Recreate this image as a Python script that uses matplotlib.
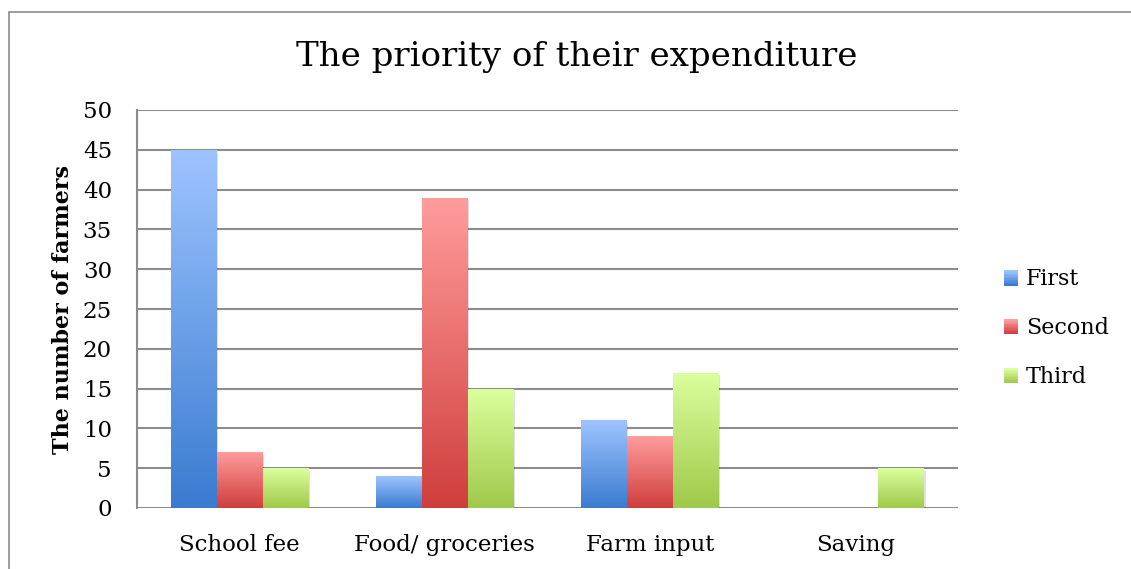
import numpy as np
import matplotlib.pyplot as plt
from matplotlib.patches import Rectangle
from matplotlib.legend_handler import HandlerBase
from matplotlib.colors import LinearSegmentedColormap

categories = ['School fee', 'Food/ groceries', 'Farm input', 'Saving']
series = ['First', 'Second', 'Third']
first = [45, 4, 11, 0]
second = [7, 39, 9, 0]
third = [5, 15, 17, 5]
yticks = [0, 5, 10, 15, 20, 25, 30, 35, 40, 45, 50]

# light (top) -> dark (bottom) for each series
shades = {
    'First': ('#9ec4ff', '#3a7bd0'),
    'Second': ('#ff9c9c', '#cf3e3c'),
    'Third': ('#dcff9e', '#9fc94a'),
}

plt.rcParams['font.family'] = ['DejaVu Serif']

fig = plt.figure(figsize=(11.31, 5.69), dpi=100)
fig.patches.append(Rectangle((9 / 1131, -0.1), 1.2, 1.1 - 12 / 569,
                             transform=fig.transFigure, fill=False,
                             edgecolor='#8c8c8c', lw=1.2))

ax = fig.add_axes([137 / 1131, 1 - 508 / 569, 821 / 1131, 398 / 569])
x = np.arange(len(categories))
w = 0.224
grad = np.linspace(0, 1, 256).reshape(-1, 1)

for i, (name, vals) in enumerate(zip(series, [first, second, third])):
    cmap = LinearSegmentedColormap.from_list(name, [shades[name][1], shades[name][0]])
    bars = ax.bar(x + (i - 1) * w, vals, w, color=shades[name][0], lw=0, zorder=3)
    for b in bars:
        h = b.get_height()
        if h <= 0:
            continue
        x0 = b.get_x()
        # soft shadow under each bar
        ax.add_patch(Rectangle((x0 + 0.006, -0.35), w, h, color='#000000',
                               alpha=0.12, lw=0, zorder=2))
        im = ax.imshow(grad, cmap=cmap, origin='lower', aspect='auto',
                       extent=(x0, x0 + w, 0, h), zorder=4)
        im.set_clip_path(b)

ax.set_xlim(-0.5, len(categories) - 0.5)
ax.set_ylim(0, 50)
ax.set_yticks(yticks)
ax.set_xticks(x)
ax.set_xticklabels(categories)
ax.tick_params(axis='both', length=0, labelsize=16.5)
ax.tick_params(axis='x', pad=19)
ax.tick_params(axis='y', pad=18)
ax.yaxis.grid(True, color='#8c8c8c', lw=1.5, zorder=1)
ax.set_axisbelow(True)
for s in ['top', 'right', 'bottom']:
    ax.spines[s].set_visible(False)
ax.spines['left'].set_color('#8c8c8c')
ax.spines['left'].set_linewidth(1.5)
ax.set_ylabel('The number of farmers', fontsize=16, fontweight='bold', labelpad=6)

fig.text(577 / 1131, 1 - 57 / 569, 'The priority of their expenditure',
         ha='center', va='center', fontsize=24.5)


class GradientHandler(HandlerBase):
    def create_artists(self, legend, orig_handle, xdescent, ydescent,
                       width, height, fontsize, trans):
        top, bottom = shades[orig_handle.get_label()]
        cmap = LinearSegmentedColormap.from_list('g', [bottom, top])
        n = 10
        arts = []
        for k in range(n):
            r = Rectangle((xdescent, ydescent + height * k / n), width, height / n + 0.3,
                          color=cmap(k / (n - 1)), lw=0, transform=trans)
            arts.append(r)
        return arts


handles = [Rectangle((0, 0), 1, 1, label=s) for s in series]
fig.legend(handles=handles, labels=series, loc='center left',
           bbox_to_anchor=(984 / 1131, 1 - 328 / 569), frameon=False,
           fontsize=16, handlelength=0.65, handleheight=0.65, handletextpad=0.35,
           labelspacing=1.2, handler_map={Rectangle: GradientHandler()})

fig.savefig('out.png', dpi=100)
